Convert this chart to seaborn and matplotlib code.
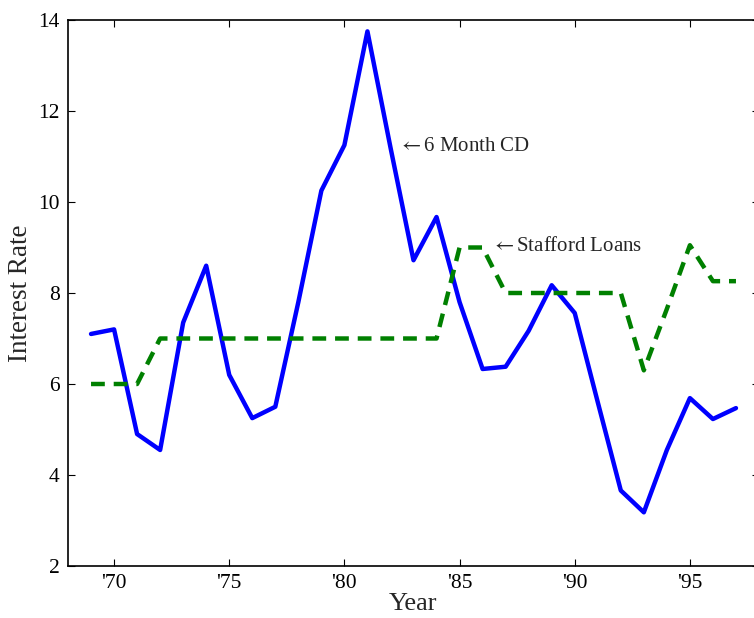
import matplotlib
matplotlib.use("Agg")
import matplotlib.pyplot as plt
import seaborn as sns
import pandas as pd

years = list(range(1969, 1998))
cd_rate = [7.1, 7.2, 4.9, 4.55, 7.35, 8.6, 6.2, 5.25, 5.5, 7.8, 10.25, 11.25,
           13.75, 11.2, 8.72, 9.67, 7.8, 6.33, 6.38, 7.17, 8.17, 7.56, 5.6,
           3.66, 3.18, 4.55, 5.69, 5.23, 5.47]
stafford = [6, 6, 6, 7, 7, 7, 7, 7, 7, 7, 7, 7, 7, 7, 7, 7, 9, 9, 8, 8, 8, 8,
            8, 8, 6.3, 7.65, 9.05, 8.26, 8.26]
xtick_years = [1970, 1975, 1980, 1985, 1990, 1995]
xtick_labels = ["'70", "'75", "'80", "'85", "'90", "'95"]
yticks = [2, 4, 6, 8, 10, 12, 14]

df = pd.DataFrame({"Year": years, "CD": cd_rate, "Stafford": stafford})

sns.set_style("ticks")
plt.rcParams["font.family"] = ["Liberation Serif", "DejaVu Serif"]
plt.rcParams["mathtext.fontset"] = "stix"

fig = plt.figure(figsize=(7.54, 6.18), dpi=100)
ax = fig.add_axes([68 / 754, 52 / 618, (759 - 68) / 754, 546 / 618])

sns.lineplot(data=df, x="Year", y="CD", ax=ax, color="#0000ff", linewidth=3.2)
sns.lineplot(data=df, x="Year", y="Stafford", ax=ax, color="#008000",
             linewidth=3.2, dashes=False)
ax.lines[-1].set_dashes((3.1, 2.0))

ax.set_xlim(1968, 1998)
ax.set_ylim(2, 14)
ax.set_xticks(xtick_years)
ax.set_xticklabels(xtick_labels)
ax.set_yticks(yticks)
ax.tick_params(direction="in", length=5, width=0.8, top=True, right=True,
               labelsize=15.5, pad=6, colors="black")
for s in ax.spines.values():
    s.set_linewidth(1.2)
    s.set_color("black")
    s.set_visible(True)

ax.set_xlabel("Year", fontsize=19, labelpad=0)
ax.set_ylabel("Interest Rate", fontsize=19.5, labelpad=4)

ax.text(1982.33, 11.22, r"$\leftarrow$6 Month CD", fontsize=15, va="center",
        ha="left")
ax.text(1986.38, 9.03, r"$\leftarrow$Stafford Loans", fontsize=15, va="center",
        ha="left")

fig.savefig("out.png", dpi=100)
